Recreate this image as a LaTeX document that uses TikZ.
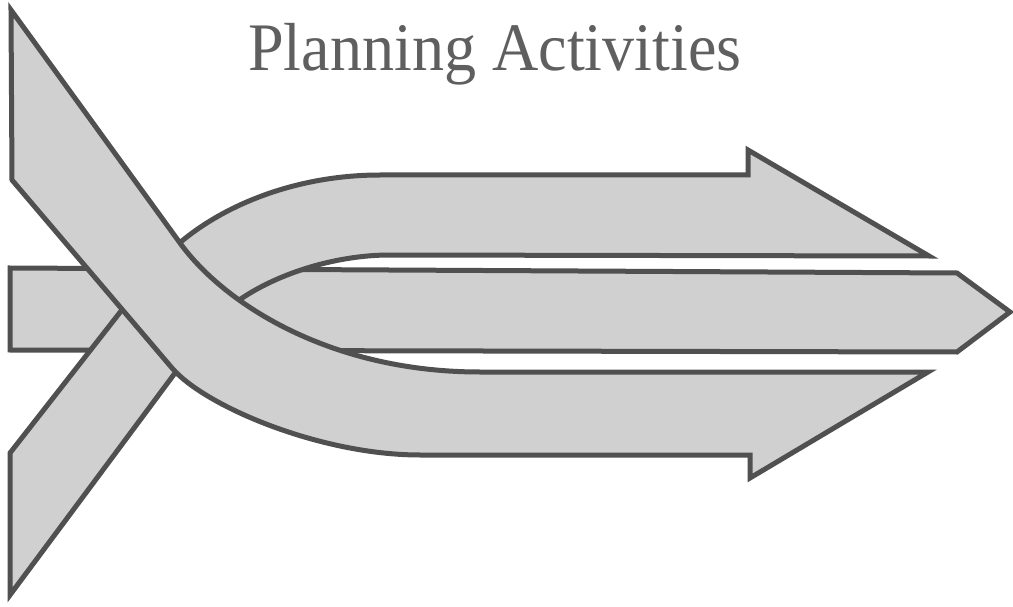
\documentclass[tikz,border=0pt]{standalone}
\usepackage{fontspec}
\setmainfont{Liberation Serif}
\usepackage{graphicx}
\definecolor{bandfill}{RGB}{208,208,208}
\definecolor{bandline}{RGB}{80,80,80}
\definecolor{titlegray}{RGB}{95,95,95}
\tikzset{band/.style={fill=bandfill, draw=bandline, line width=5pt, line join=miter, miter limit=12}}
\begin{document}
\begin{tikzpicture}[x=1pt,y=-1pt]
\useasboundingbox (0,0) rectangle (1013,607);
\node[anchor=base west, inner sep=0pt, text=titlegray, font=\fontsize{68}{72}\selectfont] (title) at (248,71) {\scalebox{0.943}[1]{Planning Activities}};
% middle bar (bottom layer)
\path[band] (10,268) -- (957,273) -- (1010,312) -- (957,352) -- (10,350) -- cycle;
% band from lower left becoming the upper arrow
\path[band] (10,453) -- (150,274) .. controls (192,218) and (280,175) .. (380,175)
  -- (748,175) -- (748,150) -- (929,256) -- (390,255)
  .. controls (320,255) and (240,286) .. (207,330) -- (10,595) -- cycle;
% band from upper left becoming the lower arrow (top layer)
\path[band] (11,10) -- (180,243) .. controls (224,303.75) and (330,372) .. (480,372)
  -- (928,372) -- (750,478) -- (750,455) -- (420,455)
  .. controls (320,455) and (204.4,406) .. (172,368) -- (12,180) -- cycle;
\end{tikzpicture}
\end{document}
